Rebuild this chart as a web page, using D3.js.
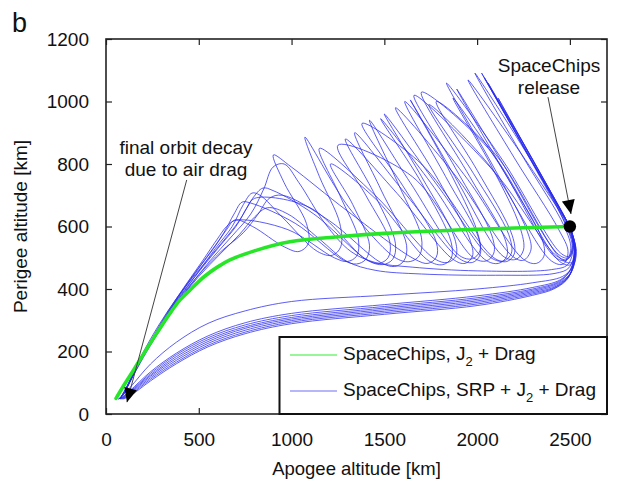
<!DOCTYPE html>
<html>
<head>
<meta charset="utf-8">
<script src="https://cdn.jsdelivr.net/npm/d3@7"></script>
<style>
  body { margin: 0; background: #fff; }
  svg { display: block; font-family: "Liberation Sans", Arial, sans-serif; }
</style>
</head>
<body>
<svg id="chart" width="617" height="484"></svg>
<script>
// Axis ticks (km)
const xTicks = [0, 500, 1000, 1500, 2000, 2500];
const yTicks = [0, 200, 400, 600, 800, 1000, 1200];

// Release orbit: [apogee, perigee] in km
const releasePoint = [2500, 600];

// J2 + drag evolution: [apogee, perigee]
const j2DragTrack = [
  [54, 50], [100, 95], [150, 142], [200, 190], [273, 258], [340, 318], [399, 365],
  [453, 397], [530, 440], [600, 470], [668, 493], [800, 522], [991, 551],
  [1250, 567], [1500, 578], [2000, 591], [2500, 600]
];

// SRP + J2 + drag evolutions, one list of [apogee, perigee] per spacecraft
const srpTracks = [
  // upper family: perigee oscillations with slow apogee decay
  [[2500,600],[2275,840],[2024,1091],[2290,815],[2485,605],[2515,545],[2495,505],[2450,515],[2140,810],[1835,1059],[2080,800],[2270,585],[2290,525],[2250,492],[2190,505],[1880,765],[1560,980],[1790,750],[1960,560],[1975,505],[1935,482],[1870,495],[1570,705],[1290,880],[1450,700],[1560,545],[1545,495],[1490,478],[1410,492],[1120,640],[900,715],[846,723],[790,690],[720,620],[620,545],[500,460],[390,378],[285,285],[185,180],[115,92],[78,50]],
  [[2500,600],[2235,865],[1988,1091],[2250,820],[2470,600],[2505,530],[2480,492],[2420,502],[2130,790],[1870,1011],[2080,790],[2230,600],[2250,525],[2210,495],[2140,505],[1880,760],[1640,1005],[1840,790],[2000,585],[2015,522],[1975,497],[1905,507],[1640,740],[1420,940],[1580,730],[1700,565],[1690,508],[1640,488],[1565,498],[1310,660],[1072,886],[1150,760],[1260,610],[1265,535],[1220,508],[1140,520],[950,630],[830,700],[787,707],[740,670],[680,600],[590,530],[480,440],[370,350],[265,255],[170,150],[105,75],[72,48]],
  [[2500,600],[2290,822],[2059,1059],[2300,800],[2490,590],[2528,520],[2505,478],[2445,488],[2060,850],[1700,1030],[1960,760],[2150,560],[2160,505],[2115,482],[2040,495],[1750,740],[1480,945],[1700,740],[1860,550],[1860,498],[1815,478],[1740,490],[1450,690],[1210,800],[1330,670],[1420,540],[1400,495],[1350,480],[1280,492],[1020,610],[780,675],[733,678],[690,640],[630,575],[540,500],[440,420],[340,330],[240,230],[150,130],[95,65],[68,48]],
  [[2500,600],[2320,792],[2113,1011],[2320,790],[2500,595],[2530,525],[2510,485],[2455,495],[2100,830],[1780,1000],[2000,780],[2190,570],[2200,512],[2160,488],[2090,500],[1700,800],[1380,930],[1600,730],[1780,550],[1780,502],[1735,482],[1665,495],[1300,650],[1000,790],[902,829],[960,740],[1080,610],[1090,545],[1040,520],[960,535],[790,600],[695,621],[650,590],[580,530],[480,450],[380,365],[280,270],[185,170],[115,90],[80,50]],
  [[2500,600],[2220,848],[1951,1069],[2200,820],[2440,590],[2490,520],[2465,480],[2400,490],[2060,800],[1740,990],[1980,770],[2170,575],[2185,515],[2145,490],[2075,500],[1800,720],[1500,960],[1700,760],[1880,560],[1885,505],[1840,485],[1770,497],[1450,700],[1150,850],[1260,700],[1360,560],[1350,505],[1300,488],[1230,500],[980,590],[700,620],[650,600],[600,560],[520,490],[420,405],[320,315],[225,215],[140,120],[88,58],[66,48]],
  [[2500,600],[2520,540],[2495,500],[2440,510],[2150,790],[1890,1040],[2140,780],[2350,560],[2360,505],[2320,482],[2250,495],[1950,750],[1610,1000],[1830,760],[2010,560],[2015,508],[1975,485],[1905,497],[1620,700],[1340,900],[1480,720],[1620,540],[1605,490],[1555,472],[1480,485],[1200,620],[950,700],[880,690],[820,640],[740,580],[620,520],[500,445],[390,365],[280,270],[180,165],[110,82],[75,48]],
  [[2500,600],[2262,842],[2040,1075],[2290,815],[2478,605],[2512,535],[2488,495],[2430,505],[2100,770],[1660,1020],[1880,790],[2080,570],[2090,515],[2050,490],[1980,500],[1650,760],[1250,860],[1400,700],[1530,550],[1520,500],[1470,482],[1400,495],[1100,660],[800,690],[760,660],[700,600],[610,535],[500,455],[395,375],[290,280],[190,175],[115,88],[76,48]],
  // long low-perigee passes
  [[2500,600],[2525,525],[2495,468],[2420,450],[2100,444],[1700,448],[1450,460],[1300,488],[1150,560],[980,640],[870,660],[800,630],[720,575],[620,515],[500,440],[390,360],[285,270],[185,168],[112,85],[75,48]],
  [[2500,600],[2518,535],[2488,478],[2400,462],[2000,458],[1650,470],[1450,485],[1320,520],[1180,610],[1040,740],[960,800],[900,790],[850,720],[780,640],[680,570],[560,490],[440,400],[330,305],[225,205],[135,110],[85,55],[68,48]],
  // lower family: early perigee drop and direct decay
  [[2500,600],[2535,520],[2515,470],[2460,440],[2300,420],[2000,400],[1500,380],[1000,360],[750,330],[550,290],[380,230],[240,160],[130,85],[70,48]],
  [[2500,600],[2530,530],[2505,465],[2450,430],[2300,405],[2000,378],[1500,350],[1000,322],[750,292],[550,250],[380,195],[240,135],[130,75],[75,48]],
  [[2500,600],[2528,528],[2502,460],[2445,425],[2300,400],[2000,372],[1500,344],[1000,315],[750,285],[550,244],[380,190],[240,130],[130,72],[78,48]],
  [[2500,600],[2532,525],[2508,455],[2440,420],[2300,396],[2000,367],[1500,339],[1000,309],[750,279],[550,238],[380,184],[240,125],[130,70],[80,48]],
  [[2500,600],[2530,522],[2505,450],[2435,415],[2300,392],[2000,362],[1500,334],[1000,304],[750,274],[550,232],[380,178],[240,121],[130,67],[83,48]],
  [[2500,600],[2527,520],[2500,446],[2430,410],[2300,388],[2000,357],[1500,329],[1000,299],[750,268],[550,226],[380,172],[240,116],[130,64],[86,48]],
  [[2500,600],[2525,518],[2497,442],[2425,406],[2300,384],[2000,352],[1500,324],[1000,294],[750,262],[550,220],[380,166],[240,111],[130,61],[90,48]],
  [[2500,600],[2522,515],[2494,438],[2420,402],[2300,380],[2000,347],[1500,319],[1000,289],[750,257],[550,215],[380,161],[240,106],[130,58],[94,48]]
];

// Annotation arrows: [tail, tip] in [apogee, perigee]
const releaseArrow = [[2382, 1014], [2506, 640]];
const decayArrow = [[435, 749], [113, 38]];

const legendLabels = [
  { color: "#33ee33", parts: ["SpaceChips, J", "2", " + Drag"] },
  { color: "#6f6ff5", parts: ["SpaceChips, SRP + J", "2", " + Drag"] }
];

const svg = d3.select("#chart");
const fontSize = 19;

const x = d3.scaleLinear().domain([0, 2700]).range([106, 607]);
const y = d3.scaleLinear().domain([0, 1200]).range([414, 39]);

// Panel letter
svg.append("text").attr("x", 12).attr("y", 32)
  .attr("font-size", 27).attr("fill", "#111").text("b");

// Clip region for the plotted tracks
svg.append("clipPath").attr("id", "plotClip")
  .append("rect").attr("x", x(0)).attr("y", y(1200))
  .attr("width", x(2700) - x(0)).attr("height", y(0) - y(1200));

const line = d3.line()
  .x(d => x(d[0])).y(d => y(d[1]))
  .curve(d3.curveCatmullRom.alpha(0.5));

const plot = svg.append("g").attr("clip-path", "url(#plotClip)");

plot.selectAll("path.srp")
  .data(srpTracks)
  .join("path")
  .attr("class", "srp")
  .attr("d", line)
  .attr("fill", "none")
  .attr("stroke", "#2a2aee")
  .attr("stroke-opacity", 0.85)
  .attr("stroke-width", 0.9);

plot.append("path")
  .datum(j2DragTrack)
  .attr("d", line)
  .attr("fill", "none")
  .attr("stroke", "#27e627")
  .attr("stroke-width", 3.6)
  .attr("stroke-linecap", "round");

// Axes with inward ticks on all four sides
const tickLen = 6;
const fmt = d3.format("d");
svg.append("g")
  .attr("transform", `translate(0,${y(0)})`)
  .call(d3.axisBottom(x).tickValues(xTicks).tickFormat(fmt).tickSizeInner(-tickLen).tickSizeOuter(0).tickPadding(19));
svg.append("g")
  .attr("transform", `translate(${x(0)},0)`)
  .call(d3.axisLeft(y).tickValues(yTicks).tickFormat(fmt).tickSizeInner(-tickLen).tickSizeOuter(0).tickPadding(17));
svg.append("g")
  .attr("transform", `translate(0,${y(1200)})`)
  .call(d3.axisTop(x).tickValues(xTicks).tickSizeInner(-tickLen).tickSizeOuter(0).tickFormat(""));
svg.append("g")
  .attr("transform", `translate(${x(2700)},0)`)
  .call(d3.axisRight(y).tickValues(yTicks).tickSizeInner(-tickLen).tickSizeOuter(0).tickFormat(""));

svg.selectAll(".domain").remove();
svg.selectAll(".tick line").attr("stroke", "#222").attr("stroke-width", 1.2);
svg.selectAll(".tick text")
  .attr("font-family", "Liberation Sans, Arial, sans-serif")
  .attr("font-size", fontSize).attr("fill", "#111");

// Frame
svg.append("rect")
  .attr("x", x(0)).attr("y", y(1200))
  .attr("width", x(2700) - x(0)).attr("height", y(0) - y(1200))
  .attr("fill", "none").attr("stroke", "#222").attr("stroke-width", 1.6);

// Axis titles
svg.append("text")
  .attr("x", (x(0) + x(2700)) / 2).attr("y", 475)
  .attr("text-anchor", "middle").attr("font-size", 18.5).attr("fill", "#111")
  .text("Apogee altitude [km]");
svg.append("text")
  .attr("transform", `translate(27,${(y(0) + y(1200)) / 2}) rotate(-90)`)
  .attr("text-anchor", "middle").attr("font-size", fontSize).attr("fill", "#111")
  .text("Perigee altitude [km]");

// Release marker
svg.append("circle")
  .attr("cx", x(releasePoint[0])).attr("cy", y(releasePoint[1]))
  .attr("r", 6.2).attr("fill", "#000");

// Arrowhead marker
const defs = svg.append("defs");
defs.append("marker")
  .attr("id", "head")
  .attr("markerUnits", "userSpaceOnUse")
  .attr("markerWidth", 16).attr("markerHeight", 16)
  .attr("viewBox", "-15 -8 16 16")
  .attr("refX", 0).attr("refY", 0)
  .attr("orient", "auto")
  .append("path").attr("d", "M0,0 L-14,-6.5 L-14,6.5 Z").attr("fill", "#000");

function arrow(pts) {
  svg.append("line")
    .attr("x1", x(pts[0][0])).attr("y1", y(pts[0][1]))
    .attr("x2", x(pts[1][0])).attr("y2", y(pts[1][1]))
    .attr("stroke", "#444").attr("stroke-width", 1)
    .attr("marker-end", "url(#head)");
}
arrow(releaseArrow);
arrow(decayArrow);

function label(lines, cx, y0) {
  const t = svg.append("text").attr("text-anchor", "middle")
    .attr("font-size", fontSize).attr("fill", "#111");
  lines.forEach((s, i) => t.append("tspan").attr("x", cx).attr("y", y0 + i * 22).text(s));
}
label(["SpaceChips", "release"], 549, 72);
label(["final orbit decay", "due to air drag"], 186, 154);

// Legend
const lg = svg.append("g");
lg.append("rect")
  .attr("x", 279.5).attr("y", 337).attr("width", x(2700) - 279.5).attr("height", y(0) - 337)
  .attr("fill", "#fff").attr("stroke", "#111").attr("stroke-width", 2);
legendLabels.forEach((d, i) => {
  const cy = 355 + i * 36;
  lg.append("line").attr("x1", 290).attr("x2", 337).attr("y1", cy).attr("y2", cy)
    .attr("stroke", d.color).attr("stroke-width", 1.2);
  const t = lg.append("text").attr("x", 343).attr("y", cy + 5)
    .attr("font-size", fontSize).attr("fill", "#111");
  t.append("tspan").text(d.parts[0]);
  t.append("tspan").attr("dy", 6).attr("font-size", 13).text(d.parts[1]);
  t.append("tspan").attr("dy", -6).text(d.parts[2]);
});
</script>
</body>
</html>
